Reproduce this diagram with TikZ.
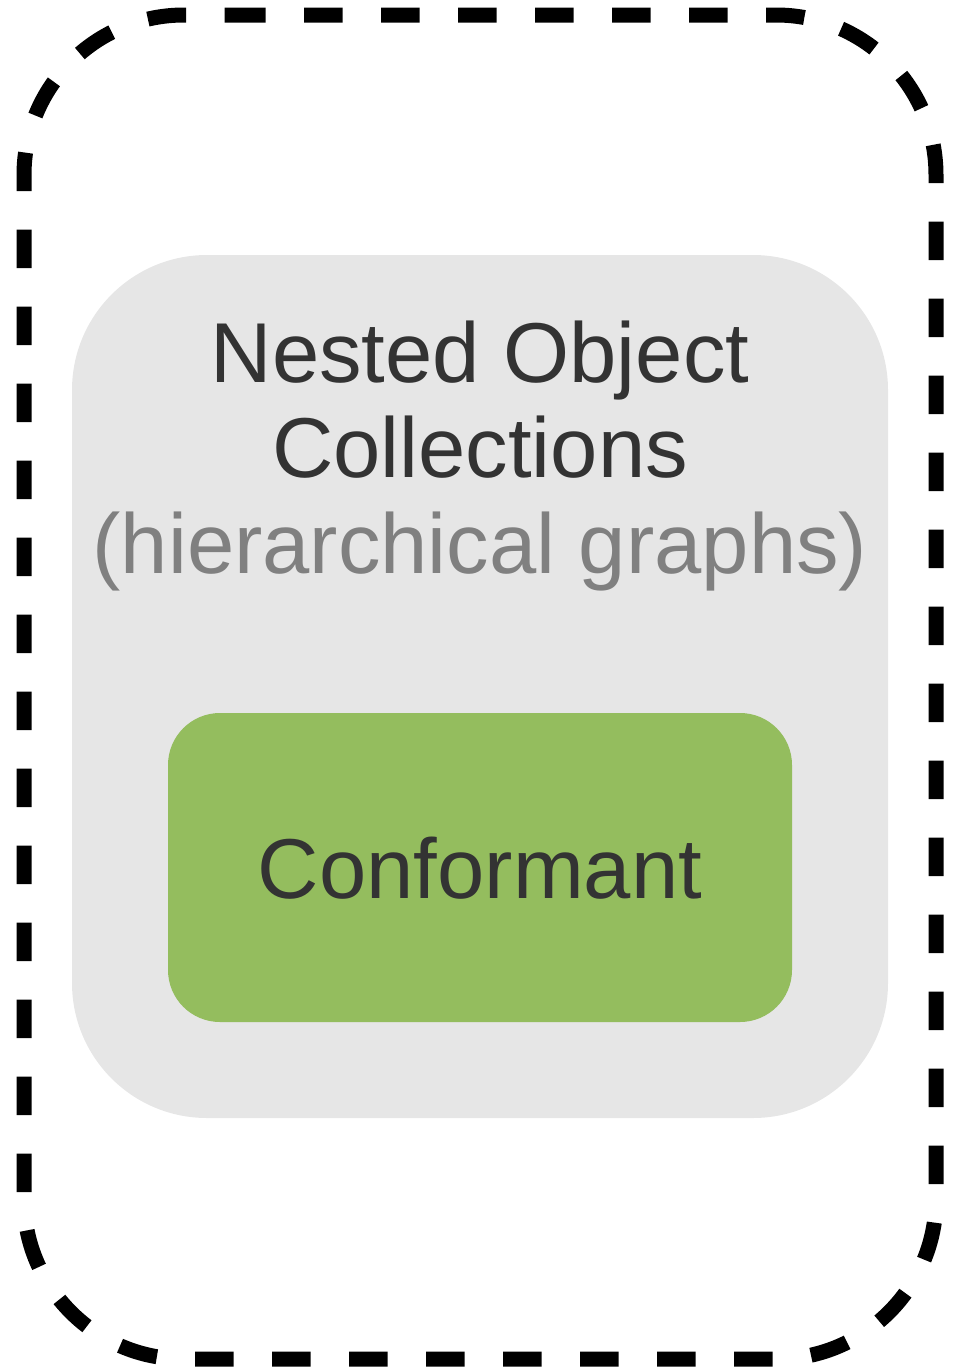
\documentclass[tikz,border=0pt]{standalone}
\usepackage{fontspec}
\setmainfont{Liberation Sans}
\definecolor{txtdark}{HTML}{333333}
\definecolor{txtgray}{HTML}{808080}
\definecolor{boxgray}{HTML}{E6E6E6}
\definecolor{boxgreen}{HTML}{94BD5E}
\tikzset{
  outerframe/.style={line width=15pt, dash pattern=on 38.5pt off 38.5pt, rounded corners=160pt},
  graybox/.style={fill=boxgray, draw=none, rounded corners=135pt},
  greenbox/.style={fill=boxgreen, draw=none, rounded corners=52pt},
  bigtext/.style={font=\fontsize{85}{95}\selectfont, inner sep=0pt, anchor=base},
}
\begin{document}
\begin{tikzpicture}[x=1pt,y=-1pt]
\useasboundingbox (0,0) rectangle (961,1368);
\coordinate (fs) at (227,15);
\draw[outerframe] (fs) -- (936,15) -- (936,1359) -- (24,1359) -- (24,15) -- (fs);
\path[graybox] (72,255) rectangle (888,1118);
\node[inner sep=0pt, minimum width=816pt, minimum height=863pt] (outer) at (480,686.5) {};
\path[greenbox] (168,713) rectangle (792,1022);
\node[inner sep=0pt, minimum width=624pt, minimum height=309pt] (inner) at (480,867.5) {};
\node[bigtext, text=txtdark] (t1) at (480,382) {Nested Object};
\node[bigtext, text=txtdark] (t2) at (480,477.5) {Collections};
\node[bigtext, text=txtgray] (t3) at (480,573) {(hierarchical graphs)};
\node[bigtext, text=txtdark] (t4) at (480,898) {Conformant};
\end{tikzpicture}
\end{document}
